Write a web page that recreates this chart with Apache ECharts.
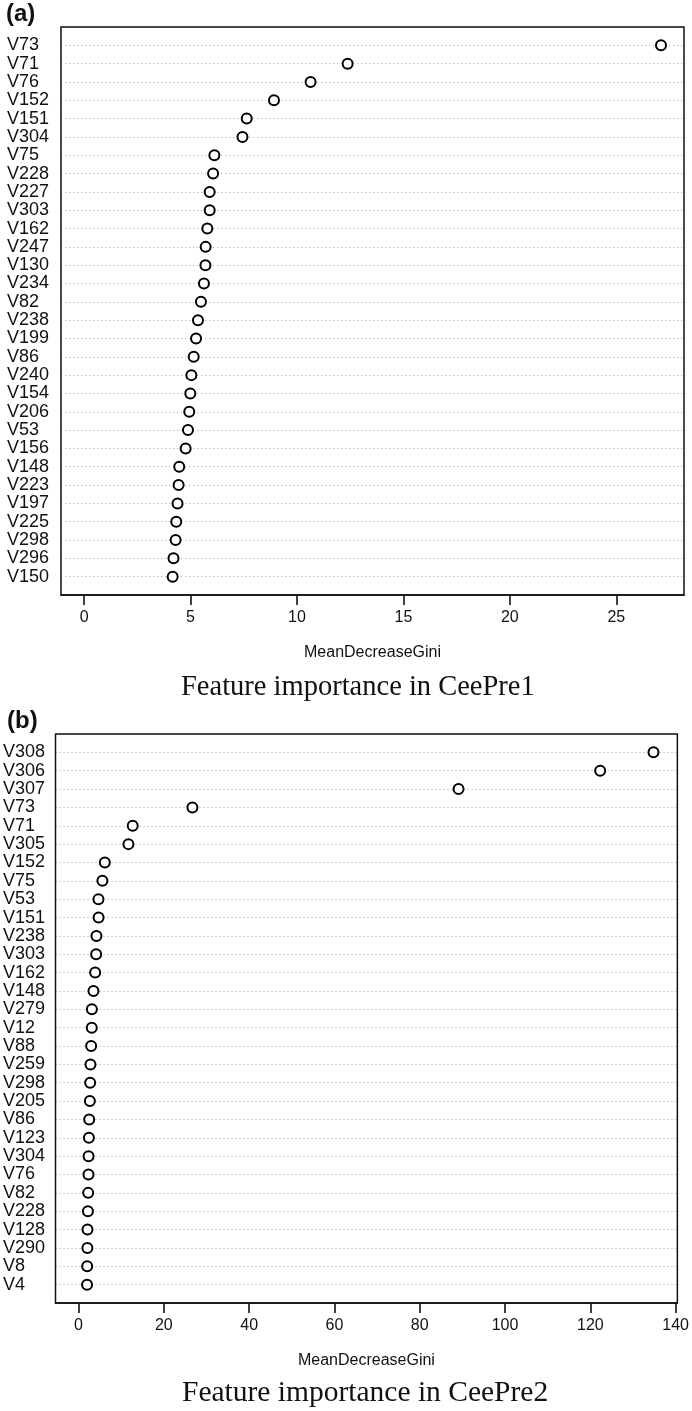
<!DOCTYPE html>
<html><head><meta charset="utf-8">
<script src="https://cdn.jsdelivr.net/npm/echarts@6/dist/echarts.min.js"></script>
<style>html,body{margin:0;padding:0;background:#fff}#c{width:692px;height:1411px}</style>
</head><body><div id="c"></div>
<script>
// Panel (a): CeePre1
const catsA = ['V73','V71','V76','V152','V151','V304','V75','V228','V227','V303','V162','V247','V130','V234','V82','V238','V199','V86','V240','V154','V206','V53','V156','V148','V223','V197','V225','V298','V296','V150'];
const valsA = [27.1,12.38,10.64,8.92,7.64,7.44,6.12,6.06,5.9,5.9,5.79,5.71,5.7,5.63,5.49,5.35,5.26,5.15,5.04,4.99,4.94,4.88,4.77,4.47,4.44,4.39,4.33,4.3,4.2,4.16];
const ticksA = [0,5,10,15,20,25];
// Panel (b): CeePre2
const catsB = ['V308','V306','V307','V73','V71','V305','V152','V75','V53','V151','V238','V303','V162','V148','V279','V12','V88','V259','V298','V205','V86','V123','V304','V76','V82','V228','V128','V290','V8','V4'];
const valsB = [134.8,122.3,89.1,26.7,12.7,11.7,6.16,5.6,4.67,4.7,4.2,4.13,3.9,3.5,3.13,3.1,2.96,2.8,2.73,2.66,2.5,2.43,2.35,2.33,2.26,2.2,2.1,2.08,2.03,2.0];
const ticksB = [0,20,40,60,80,100,120,140];
const axisName = 'MeanDecreaseGini';
const titleA = 'Feature importance in CeePre1';
const titleB = 'Feature importance in CeePre2';

const SANS = 'Liberation Sans, Arial, Helvetica, sans-serif';
const SERIF = 'Liberation Serif, Times New Roman, serif';
const INK = '#111111';

function xAxisFor(gi, lo, hi, ticks){
  return {
    gridIndex: gi, type: 'value', min: lo, max: hi, position: 'bottom',
    axisLine: {show: true, onZero: false, lineStyle: {color: INK, width: 1.5}},
    axisTick: {show: true, inside: false, customValues: ticks, length: 10, lineStyle: {color: INK, width: 1.6}},
    axisLabel: {show: true, customValues: ticks, fontSize: 16, color: INK, fontFamily: SANS, margin: 15},
    splitLine: {show: false},
    name: axisName, nameLocation: 'middle', nameGap: 50,
    nameTextStyle: {fontSize: 16, color: INK, fontFamily: SANS}
  };
}
function yAxisFor(gi, cats, margin){
  return {
    gridIndex: gi, type: 'value', min: 0, max: cats.length + 1, interval: 1, inverse: true, position: 'left',
    axisLine: {show: false, onZero: false}, axisTick: {show: false},
    axisLabel: {fontSize: 18, color: INK, fontFamily: SANS, align: 'left', margin: margin,
      formatter: v => (v >= 1 && v <= cats.length) ? cats[v - 1] : ''},
    splitLine: {show: true, lineStyle: {color: '#b4b4b4', width: 1, type: [1.2, 2.8]}}
  };
}
function seriesFor(i, vals){
  return {
    type: 'scatter', xAxisIndex: i, yAxisIndex: i,
    data: vals.map((v, k) => [v, k + 1]),
    symbol: 'circle', symbolSize: 10,
    itemStyle: {color: '#ffffff', borderColor: '#000', borderWidth: 2, opacity: 1},
    silent: true, z: 5
  };
}
const richParen = () => ({
  p: {fontSize: 24, fontFamily: SANS, color: INK, lineHeight: 28},
  b: {fontSize: 24, fontFamily: SANS, fontWeight: 'bold', color: INK, lineHeight: 28}
});

const chart = echarts.init(document.getElementById('c'), null, {renderer: 'canvas'});
chart.setOption({
  animation: false,
  backgroundColor: '#ffffff',
  grid: [
    {left: 61, top: 27, width: 623, height: 568, show: true, borderColor: INK, borderWidth: 1.5, backgroundColor: 'transparent', z: 3},
    {left: 53.5, top: 734, width: 625.5, height: 569, show: true, borderColor: INK, borderWidth: 1.5, backgroundColor: 'transparent', z: 3}
  ],
  xAxis: [xAxisFor(0, -1.084, 28.18, ticksA), xAxisFor(1, -5.4, 140.4, ticksB)],
  yAxis: [yAxisFor(0, catsA, 54), yAxisFor(1, catsB, 52.5)],
  series: [seriesFor(0, valsA), seriesFor(1, valsB)],
  title: [
    {text: '{p|(}{b|a}{p|)}', left: 6, top: 0, padding: 0, textStyle: {rich: richParen()}},
    {text: '{p|(}{b|b}{p|)}', left: 7, top: 707, padding: 0, textStyle: {rich: richParen()}},
    {text: titleA, left: 181, top: 672, padding: 0, textStyle: {fontSize: 28.5, fontWeight: 'normal', fontFamily: SERIF, color: INK, lineHeight: 32}},
    {text: titleB, left: 182, top: 1377, padding: 0, textStyle: {fontSize: 29.5, fontWeight: 'normal', fontFamily: SERIF, color: INK, lineHeight: 32}}
  ]
});
</script>
</body></html>
